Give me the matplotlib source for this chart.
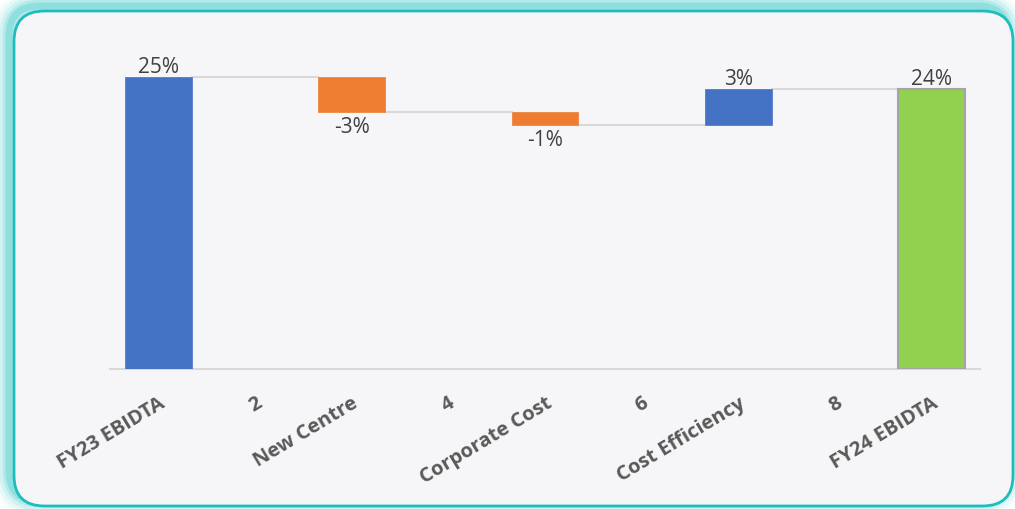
import matplotlib
matplotlib.use("Agg")
import matplotlib.pyplot as plt
from matplotlib.patches import FancyBboxPatch
import numpy as np

categories = ["FY23 EBIDTA", "2", "New Centre", "4", "Corporate Cost", "6",
              "Cost Efficiency", "8", "FY24 EBIDTA"]
step_names = ["FY23 EBIDTA", "New Centre", "Corporate Cost", "Cost Efficiency", "FY24 EBIDTA"]
step_values = [25.0, -3.0, -1.1, 3.1]   # start value followed by changes
step_labels = ["25%", "-3%", "-1%", "3%", "24%"]

plt.rcParams['font.family'] = ['Open Sans', 'DejaVu Sans']

W, H = 1015, 510
fig = plt.figure(figsize=(W / 100, H / 100), dpi=100, facecolor="white")

# rounded card with teal glow (offset to upper-left)
x0, y0, x1, y1 = 14 / W, 1 - 507 / H, 1013 / W, 1 - 12 / H
for i, (lw, a) in enumerate([(24, 0.05), (19, 0.08), (14, 0.12), (9, 0.2), (5, 0.3)]):
    g = FancyBboxPatch((x0 - 5 / W, y0 + 5 / H), x1 - x0, y1 - y0,
                       boxstyle="round,pad=0,rounding_size=0.03",
                       transform=fig.transFigure, facecolor="none",
                       edgecolor="#3cc9c9", lw=lw, alpha=a, zorder=0,
                       mutation_aspect=W / H)
    fig.patches.append(g)
card = FancyBboxPatch((x0, y0), x1 - x0, y1 - y0,
                      boxstyle="round,pad=0,rounding_size=0.03",
                      transform=fig.transFigure, facecolor="#f6f6f8",
                      edgecolor="#1fbcbc", lw=2, zorder=1,
                      mutation_aspect=W / H)
fig.patches.append(card)

ax = fig.add_axes([110 / W, (H - 370) / H, 870 / W, (370 - 54.6) / H])
ax.set_zorder(5)
ax.set_facecolor("none")
ax.set_xlim(-0.5, 8.5)
ax.set_ylim(0, 27)

pos = [0, 2, 4, 6, 8]
bw = 0.69
final = sum(step_values)
bottoms, heights, colors, edges = [], [], [], []
cum = 0.0
levels = []
for i, v in enumerate(step_values):
    if i == 0:
        bottoms.append(0); heights.append(v); colors.append("#4472c4"); edges.append("#4472c4")
        cum = v
    else:
        if v >= 0:
            bottoms.append(cum); heights.append(v); colors.append("#4472c4")
        else:
            bottoms.append(cum + v); heights.append(-v); colors.append("#ed7d31")
        edges.append(colors[-1])
        cum += v
    levels.append(cum)
bottoms.append(0); heights.append(final); colors.append("#92d050"); edges.append("#a5a5a5")
levels.append(final)

ax.bar(pos, heights, bottom=bottoms, width=bw, color=colors, edgecolor=edges,
       linewidth=[0.5, 0.5, 0.5, 0.5, 1.5], zorder=3)

# connectors
for i in range(len(pos) - 1):
    ax.plot([pos[i] + bw / 2, pos[i + 1] - bw / 2], [levels[i], levels[i]],
            color="#d9d9d9", lw=1.5, zorder=2)

# data labels
vals = step_values + [final]
for i, (p, v, lab) in enumerate(zip(pos, vals, step_labels)):
    if i == 0 or i == len(pos) - 1 or v >= 0:
        ax.annotate(lab, (p, bottoms[i] + heights[i]), xytext=(0, 0),
                    textcoords="offset points", ha="center", va="bottom",
                    fontsize=15, color="#404040")
    else:
        ax.annotate(lab, (p, bottoms[i]), xytext=(0, -3),
                    textcoords="offset points", ha="center", va="top",
                    fontsize=15, color="#404040")

for s in ["top", "right", "left"]:
    ax.spines[s].set_visible(False)
ax.spines["bottom"].set_color("#d9d9d9")
ax.spines["bottom"].set_linewidth(1.5)
ax.set_yticks([])
ax.set_xticks(range(len(categories)))
ax.set_xticklabels(categories, rotation=31, ha="right", rotation_mode="anchor",
                   fontsize=14.5, fontweight="bold", color="#595959")
ax.tick_params(axis="x", length=0, pad=17)

fig.savefig("out.png", dpi=100, facecolor="white")
